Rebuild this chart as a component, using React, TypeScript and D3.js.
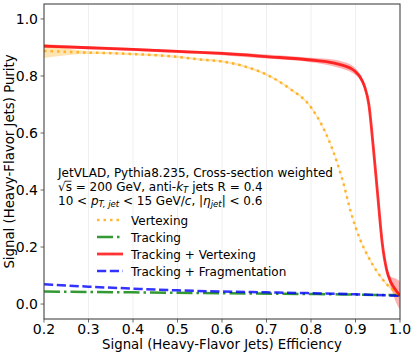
import React from "react";
import * as d3 from "d3";

// efficiency (x) vs purity (y)
const vtxEff = [0.2, 0.25, 0.3, 0.35, 0.4, 0.45, 0.5, 0.55, 0.6, 0.65, 0.7, 0.75, 0.8, 0.83, 0.85, 0.87, 0.89, 0.91, 0.93, 0.95, 0.97, 0.99, 1.0];
const vtxPur = [0.888, 0.885, 0.882, 0.880, 0.877, 0.873, 0.867, 0.858, 0.851, 0.834, 0.805, 0.758, 0.69, 0.61, 0.535, 0.44, 0.32, 0.228, 0.162, 0.11, 0.07, 0.042, 0.03];
const vtxErr = [0.025, 0.012, 0.005, 0.004, 0.004, 0.004, 0.004, 0.004, 0.004, 0.004, 0.004, 0.004, 0.004, 0.004, 0.004, 0.004, 0.004, 0.004, 0.004, 0.004, 0.005, 0.006, 0.008];

const tvEff = [0.2, 0.3, 0.4, 0.5, 0.55, 0.6, 0.7, 0.8, 0.85, 0.87, 0.89, 0.9, 0.91, 0.92, 0.93, 0.94, 0.95, 0.96, 0.97, 0.98, 0.99, 1.0];
const tvPur = [0.905, 0.899, 0.893, 0.886, 0.883, 0.879, 0.868, 0.856, 0.846, 0.838, 0.826, 0.815, 0.797, 0.765, 0.70, 0.55, 0.38, 0.215, 0.12, 0.075, 0.05, 0.03];
const tvErr = [0.006, 0.005, 0.005, 0.005, 0.005, 0.006, 0.007, 0.008, 0.012, 0.013, 0.013, 0.012, 0.01, 0.01, 0.01, 0.01, 0.01, 0.01, 0.012, 0.02, 0.04, 0.05];

const trkEff = [0.2, 0.4, 0.6, 0.8, 1.0];
const trkPur = [0.044, 0.041, 0.038, 0.035, 0.031];

const tfEff = [0.2, 0.3, 0.4, 0.5, 0.6, 0.7, 0.8, 0.9, 1.0];
const tfPur = [0.069, 0.061, 0.054, 0.048, 0.044, 0.041, 0.038, 0.034, 0.029];

const xTicks = [0.2, 0.3, 0.4, 0.5, 0.6, 0.7, 0.8, 0.9, 1.0];
const yTicks = [0.0, 0.2, 0.4, 0.6, 0.8, 1.0];

const legendNames = ["Vertexing", "Tracking", "Tracking + Vertexing", "Tracking + Fragmentation"];

const ORANGE = "#ffa500";
const GREEN = "#008000";
const RED = "#ff0000";
const BLUE = "#0000ff";

const W = 415, H = 356;
const m = { left: 44, right: 15, top: 4, bottom: 37 };

export default function App() {
  const x = d3.scaleLinear().domain([0.2, 1.0]).range([m.left, W - m.right]);
  const y = d3.scaleLinear().domain([-0.0525, 1.0525]).range([H - m.bottom, m.top]);

  const line = (xs: number[], ys: number[]) =>
    d3.line<number>().x((_, i) => x(xs[i])).y((d) => y(d)).curve(d3.curveMonotoneX)(ys) || "";
  const band = (xs: number[], ys: number[], es: number[]) =>
    d3.area<number>()
      .x((_, i) => x(xs[i]))
      .y0((d, i) => y(d - es[i]))
      .y1((d, i) => y(d + es[i]))
      .curve(d3.curveMonotoneX)(ys) || "";

  const font = "DejaVu Sans, sans-serif";
  const legendItems = [
    { c: ORANGE, dash: "2.5 4", w: 2.5 },
    { c: GREEN, dash: "16 4 2.5 4", w: 2.5 },
    { c: RED, dash: "none", w: 2.8 },
    { c: BLUE, dash: "9.2 3.6", w: 2.5 },
  ];
  const bottom = H - m.bottom;

  return (
    <svg width={W} height={H} style={{ position: "absolute", left: 0, top: 0 }} fontFamily={font}>
      <rect width={W} height={H} fill="#fff" />
      <defs>
        <clipPath id="plot">
          <rect x={m.left} y={m.top} width={W - m.left - m.right} height={bottom - m.top} />
        </clipPath>
      </defs>
      {xTicks.slice(1, -1).map((t) => (
        <line key={t} x1={x(t)} x2={x(t)} y1={m.top} y2={bottom} stroke="#ebebeb" strokeWidth={0.8} />
      ))}
      <g clipPath="url(#plot)">
        <path d={band(vtxEff, vtxPur, vtxErr)} fill={ORANGE} opacity={0.3} />
        <path d={band(tvEff, tvPur, tvErr)} fill={RED} opacity={0.3} />
        <path d={line(trkEff, trkPur)} fill="none" stroke={GREEN} strokeOpacity={0.8} strokeWidth={2.5} strokeDasharray="16 4 2.5 4" />
        <path d={line(tfEff, tfPur)} fill="none" stroke={BLUE} strokeOpacity={0.8} strokeWidth={2.5} strokeDasharray="9.2 3.6" />
        <path d={line(vtxEff, vtxPur)} fill="none" stroke={ORANGE} strokeOpacity={0.8} strokeWidth={2.5} strokeDasharray="2.5 4" />
        <path d={line(tvEff, tvPur)} fill="none" stroke={RED} strokeOpacity={0.8} strokeWidth={2.8} />
      </g>
      <rect x={m.left} y={m.top} width={W - m.left - m.right} height={bottom - m.top} fill="none" stroke="#444" strokeWidth={1.1} />
      {xTicks.map((t) => (
        <g key={t}>
          <line x1={x(t)} x2={x(t)} y1={bottom} y2={bottom + 3.5} stroke="#444" strokeWidth={0.8} />
          <text x={x(t)} y={333.5} textAnchor="middle" fontSize={14}>
            {t.toFixed(1)}
          </text>
        </g>
      ))}
      {yTicks.map((t) => (
        <g key={t}>
          <line x1={m.left - 3.5} x2={m.left} y1={y(t)} y2={y(t)} stroke="#444" strokeWidth={0.8} />
          <text x={m.left - 6} y={y(t) + 5} textAnchor="end" fontSize={14}>
            {t.toFixed(1)}
          </text>
        </g>
      ))}
      <text x={(m.left + W - m.right) / 2} y={349} textAnchor="middle" fontSize={13.3}>
        Signal (Heavy-Flavor Jets) Efficiency
      </text>
      <text transform={`translate(13.5, ${(m.top + bottom) / 2}) rotate(-90)`} textAnchor="middle" fontSize={13.3}>
        Signal (Heavy-Flavor Jets) Purity
      </text>
      <g fontSize={12}>
        <text x={58} y={177}>JetVLAD, Pythia8.235, Cross-section weighted</text>
        <line x1={64.8} x2={71.5} y1={181.2} y2={181.2} stroke="#000" strokeWidth={0.8} />
        <text x={58} y={191}>
          √s = 200 GeV, anti-<tspan fontStyle="italic">k</tspan>
          <tspan fontStyle="italic" fontSize={8.5} dy={2}>T</tspan>
          <tspan dy={-2}> jets R = 0.4</tspan>
        </text>
        <text x={58} y={204.5}>
          10 &lt; <tspan fontStyle="italic">p</tspan>
          <tspan fontStyle="italic" fontSize={8.5} dy={2}>T, jet</tspan>
          <tspan dy={-2}> &lt; 15 GeV/</tspan>
          <tspan fontStyle="italic">c</tspan>, |<tspan fontStyle="italic">η</tspan>
          <tspan fontStyle="italic" fontSize={8.5} dy={2}>jet</tspan>
          <tspan dy={-2}>| &lt; 0.6</tspan>
        </text>
      </g>
      {legendNames.map((n, i) => {
        const it = legendItems[i];
        const ly = 220 + i * 17;
        return (
          <g key={n}>
            <line x1={97} x2={123} y1={ly} y2={ly} stroke={it.c} strokeOpacity={0.8} strokeWidth={it.w} strokeDasharray={it.dash} />
            <text x={131} y={ly + 4.5} fontSize={12}>{n}</text>
          </g>
        );
      })}
    </svg>
  );
}
